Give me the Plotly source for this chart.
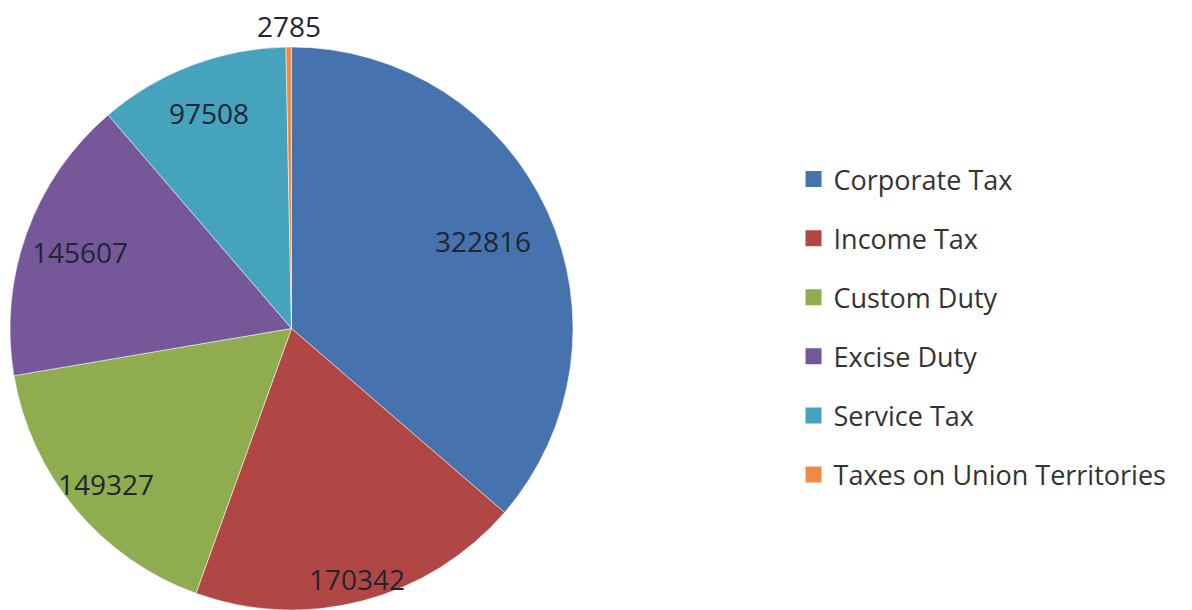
import math
import plotly.graph_objects as go

categories = ["Corporate Tax", "Income Tax", "Custom Duty", "Excise Duty",
              "Service Tax", "Taxes on Union Territories"]
values = [322816, 170342, 149327, 145607, 97508, 2785]
colors = ["#4673AD", "#B04745", "#8FAD4F", "#76589A", "#46A3BD", "#EE8A42"]
# radial placement of each value label, as a fraction of the pie radius (style)
label_radius = [0.75, 0.92, 0.86, 0.80, 0.82, 1.075]

W, H = 1192, 610
CX, CY, R = 283.5, 320.5, 281.5   # pie centre / radius in figure pixels
FONT = "Open Sans, Lato, sans-serif"

dom_x = [(CX - R) / W, (CX + R) / W]
dom_y = [1 - (CY + R) / H, 1 - (CY - R) / H]

fig = go.Figure()
fig.add_trace(go.Pie(
    labels=categories, values=values, sort=False, direction="clockwise",
    rotation=0, marker=dict(colors=colors, line=dict(color="white", width=0.5)),
    textinfo="none", showlegend=False,
    domain=dict(x=dom_x, y=dom_y), hoverinfo="label+value",
))

# value labels placed at each slice's mid-angle (computed from the data)
total = sum(values)
cum = 0.0
for v, f in zip(values, label_radius):
    mid = (cum + v / 2) / total * 2 * math.pi
    cum += v
    px = CX + R * f * math.sin(mid)
    py = CY - R * f * math.cos(mid)
    fig.add_annotation(x=px / W, y=1 - py / H, xref="paper", yref="paper",
                       text=f"{v}", showarrow=False, xanchor="center",
                       yanchor="middle", borderpad=0,
                       font=dict(family=FONT, size=28, color="#1f2533"))

for i, (c, col) in enumerate(zip(categories, colors)):
    fig.add_trace(go.Scatter(
        x=[None], y=[None], mode="markers", name=c, legendgroup=f"g{i}",
        marker=dict(symbol="square", size=16, color=col),
    ))

fig.update_layout(
    width=W, height=H, margin=dict(l=0, r=0, t=0, b=0),
    paper_bgcolor="white", plot_bgcolor="white",
    xaxis=dict(visible=False), yaxis=dict(visible=False),
    legend=dict(x=0.659, y=0.759, xanchor="left", yanchor="top",
                font=dict(family=FONT, size=27, color="#333333"),
                tracegroupgap=21, itemwidth=30),
    font=dict(family=FONT),
)
fig.write_html("out.html")
